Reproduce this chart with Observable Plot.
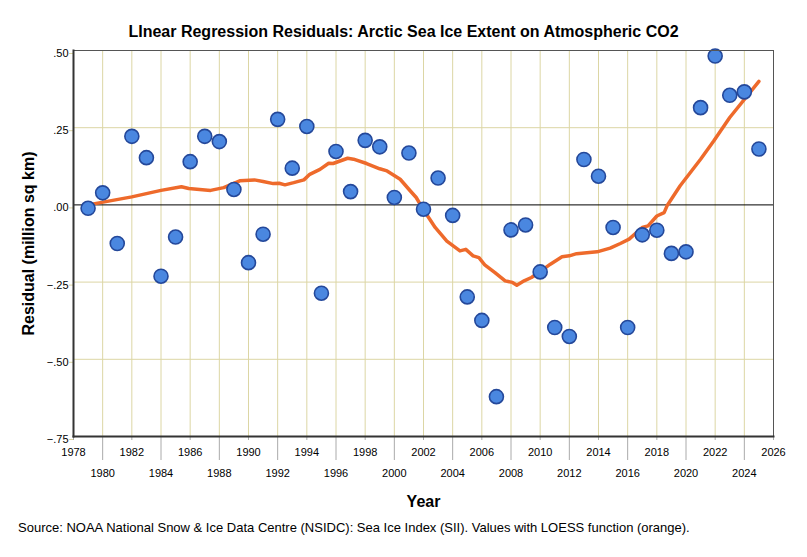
<!DOCTYPE html>
<html>
<head>
<meta charset="utf-8">
<script src="https://cdn.jsdelivr.net/npm/d3@7"></script>
<script src="https://cdn.jsdelivr.net/npm/@observablehq/plot@0.6"></script>
<style>
  html, body { margin: 0; padding: 0; background: #fff; }
  body { width: 807px; height: 557px; overflow: hidden; font-family: "Liberation Sans", Arial, sans-serif; }
  #title { height: 42px; box-sizing: border-box; padding-top: 23px; text-align: center; font-weight: bold; font-size: 16px; line-height: 18px; color: #000; }
  #chart svg { display: block; }
  #caption { padding-left: 18px; padding-top: 8px; font-size: 13px; color: #000; white-space: nowrap; }
</style>
</head>
<body>
<div id="title">LInear Regression Residuals: Arctic Sea Ice Extent on Atmospheric CO2</div>
<div id="chart"></div>
<div id="caption">Source: NOAA National Snow &amp; Ice Data Centre (NSIDC): Sea Ice Index (SII). Values with LOESS function (orange).</div>
<script>
const years = [1979,1980,1981,1982,1983,1984,1985,1986,1987,1988,1989,1990,1991,1992,1993,1994,1995,1996,1997,1998,1999,2000,2001,2002,2003,2004,2005,2006,2007,2008,2009,2010,2011,2012,2013,2014,2015,2016,2017,2018,2019,2020,2021,2022,2023,2024,2025];
const residuals = [-0.011,0.039,-0.125,0.222,0.153,-0.231,-0.104,0.140,0.222,0.205,0.050,-0.187,-0.095,0.277,0.119,0.254,-0.286,0.173,0.043,0.209,0.188,0.024,0.168,-0.014,0.087,-0.034,-0.298,-0.374,-0.621,-0.081,-0.065,-0.217,-0.397,-0.426,0.147,0.093,-0.073,-0.397,-0.097,-0.082,-0.157,-0.152,0.315,0.482,0.355,0.366,0.181];

const loessYears = [1979.0,1982.0,1984.0,1985.4,1985.9,1987.4,1988.3,1989.4,1990.4,1991.0,1991.7,1992.1,1992.5,1993.1,1993.8,1994.2,1994.9,1995.5,1995.8,1996.8,1997.2,1998.1,1999.0,1999.5,2000.4,2001.1,2001.5,2002.0,2002.8,2003.6,2004.5,2004.9,2005.4,2005.8,2006.2,2006.9,2007.6,2008.1,2008.4,2008.9,2009.4,2010.0,2010.7,2011.5,2012.0,2012.5,2013.9,2014.8,2015.5,2016.1,2017.0,2017.4,2018.0,2018.5,2018.7,2019.6,2021.0,2021.9,2023.0,2025.0];
const loessValues = [0.000,0.026,0.047,0.059,0.053,0.047,0.056,0.078,0.081,0.076,0.069,0.070,0.065,0.072,0.081,0.099,0.115,0.135,0.134,0.151,0.148,0.134,0.117,0.110,0.083,0.045,0.024,-0.016,-0.073,-0.117,-0.149,-0.144,-0.165,-0.171,-0.194,-0.219,-0.246,-0.251,-0.260,-0.246,-0.235,-0.216,-0.192,-0.168,-0.165,-0.158,-0.152,-0.140,-0.125,-0.111,-0.073,-0.068,-0.036,-0.025,-0.003,0.062,0.148,0.207,0.283,0.400];

const yTicks = [0.5,0.25,0,-0.25,-0.5,-0.75];
const xTicksRow1 = [1978,1982,1986,1990,1994,1998,2002,2006,2010,2014,2018,2022,2026];
const xTicksRow2 = [1980,1984,1988,1992,1996,2000,2004,2008,2012,2016,2020,2024];
const xGrid = d3.range(1980, 2026, 2);

const points = years.map((y, i) => ({year: y, value: residuals[i]}));
const loess = loessYears.map((y, i) => ({year: y, value: loessValues[i]}));

const fmtY = d => d === 0 ? ".00" : d3.format(".2f")(d).replace("0.", ".");
const gridColor = "#dcd6a4";

const chart = Plot.plot({
  width: 807,
  height: 470,
  marginTop: 8,
  marginLeft: 73,
  marginRight: 34,
  marginBottom: 76,
  style: {fontFamily: "Liberation Sans, Arial, sans-serif", fontSize: "11px", color: "#000", background: "#fff"},
  x: {domain: [1978, 2026]},
  y: {domain: [-0.75, 0.5]},
  marks: [
    Plot.ruleX(xGrid, {stroke: gridColor, strokeWidth: 1}),
    Plot.ruleY([0.25, -0.25, -0.5], {stroke: gridColor, strokeWidth: 1}),
    Plot.ruleY([0], {stroke: "#000", strokeWidth: 1}),
    Plot.axisY({ticks: yTicks, tickFormat: fmtY, tickSize: 4, tickPadding: 1, stroke: gridColor, dy: 3, fontSize: 11, label: null}),
    Plot.axisX({ticks: xTicksRow1, tickFormat: d => String(d), tickSize: 4, tickPadding: 8, stroke: "#aaa", fontSize: 11, label: null}),
    Plot.axisX({ticks: xTicksRow2, tickFormat: d => String(d), tickSize: 24, tickPadding: 9, stroke: "#aaa", fontSize: 11, label: null}),
    Plot.text(["Year"], {frameAnchor: "bottom", dy: 70, fontSize: 16, fontWeight: "bold", x: 2002}),
    Plot.text(["Residual (million sq km)"], {frameAnchor: "left", textAnchor: "middle", dx: -45, rotate: -90, fontSize: 16, fontWeight: "bold"}),
    Plot.line(loess, {x: "year", y: "value", stroke: "#ee6a2b", strokeWidth: 3.5, strokeLinejoin: "round", strokeLinecap: "round"}),
    Plot.dot(points, {x: "year", y: "value", r: 7, fill: "#4a87e0", stroke: "#24489a", strokeWidth: 1.6}),
    Plot.frame({stroke: "#555", strokeWidth: 1}),
    Plot.frame({anchor: "left", stroke: "#333", strokeWidth: 2}),
    Plot.frame({anchor: "bottom", stroke: "#333", strokeWidth: 2})
  ]
});
document.getElementById("chart").appendChild(chart);
</script>
</body>
</html>
